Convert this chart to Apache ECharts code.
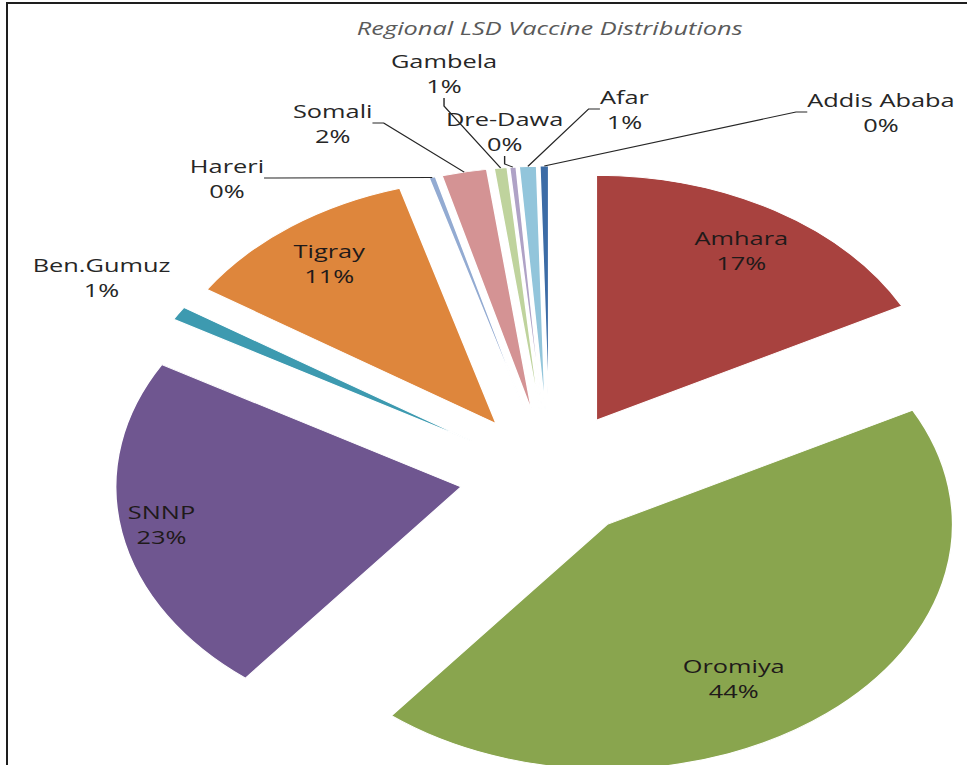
<!DOCTYPE html>
<html><head><meta charset="utf-8">
<script src="https://cdn.jsdelivr.net/npm/echarts@6/dist/echarts.min.js"></script>
<style>
html,body{margin:0;padding:0;background:#fff;overflow:hidden;width:967px;height:765px;}
#frame{position:absolute;left:6px;top:2px;width:961px;height:763px;border-top:2px solid #1e1e1e;border-left:2px solid #1e1e1e;}
#chart{position:absolute;left:0;top:0;width:686px;height:765px;transform:scaleX(1.4096);transform-origin:0 0;}
</style></head><body>
<div id="frame"></div>
<div id="chart"></div>
<script>
// Data (percent share of vaccine distribution), clockwise from 12 o'clock
const categories = ['Amhara','Oromiya','SNNP','Ben.Gumuz','Tigray','Hareri','Somali','Gambela','Dre-Dawa','Afar','Addis Ababa'];
const shares = [17.3, 43.5, 22.6, 0.9, 11.3, 0.3, 2.1, 0.6, 0.3, 0.8, 0.4];
const colors = ['#A8423F','#89A54E','#6F5690','#3D9AB0','#DE863C','#93ABD2','#D49394','#BFD39D','#AFA2C6','#92C5DB','#3C6CA6'];
const insideLabels = ['Amhara','Oromiya','SNNP','Tigray'];
const titleText = 'Regional LSD Vaccine Distributions';

// Outside label anchor positions (chart px before the horizontal stretch)
const labelAnchors = {
  'Ben.Gumuz': [72, 277],
  'Hareri': [161, 178],
  'Somali': [236, 123],
  'Gambela': [315, 73],
  'Dre-Dawa': [358, 131],
  'Afar': [443, 109],
  'Addis Ababa': [625, 112]
};
// small horizontal nudges of inside labels (px)
const insideNudge = {'Oromiya': -37, 'SNNP': -17};

const FONT = '"Open Sans", "Liberation Sans", sans-serif';
const fmt = p => p.name + '\n' + Math.round(p.value) + '%';
const center = [390, 475];
const R = 245, EXPLODE = 64;

const chart = echarts.init(document.getElementById('chart'), null, {renderer: 'svg'});

const pieData = categories.map((n, i) => ({
  name: n, value: shares[i], selected: true, itemStyle: {color: colors[i]}
}));
const outData = categories.map((n, i) => ({
  name: n, value: shares[i],
  label: {show: !insideLabels.includes(n)},
  labelLine: {show: !insideLabels.includes(n) && n !== 'Ben.Gumuz'}
}));
const inData = categories.map((n, i) => ({
  name: n, value: shares[i],
  label: {show: insideLabels.includes(n)}
}));

const labelFont = {fontFamily: FONT, fontSize: 18, lineHeight: 25, align: 'center'};

chart.setOption({
  animation: false,
  backgroundColor: 'transparent',
  title: {
    text: titleText, left: 385, top: 14, textAlign: 'center',
    textStyle: {fontFamily: FONT, fontStyle: 'italic', fontWeight: 'normal', fontSize: 18, color: '#5a5a5a'}
  },
  series: [
    {
      type: 'pie', center: center, radius: [0, R], startAngle: 90, clockwise: true,
      selectedMode: 'multiple', selectedOffset: EXPLODE,
      itemStyle: {borderColor: '#ffffff', borderWidth: 1},
      emphasis: {disabled: true},
      label: {show: false}, labelLine: {show: false},
      data: pieData, z: 2
    },
    {
      type: 'pie', silent: true, center: center, radius: [0, R + EXPLODE], startAngle: 90, clockwise: true,
      avoidLabelOverlap: false,
      itemStyle: {color: 'rgba(0,0,0,0)', borderWidth: 0},
      emphasis: {disabled: true},
      label: Object.assign({position: 'outside', formatter: fmt, color: '#262626'}, labelFont),
      labelLine: {show: true, length: 15, length2: 8, lineStyle: {color: '#262626', width: 1}},
      labelLayout: function (p) {
        const a = labelAnchors[categories[p.dataIndex]];
        if (!a) return {};
        return {x: a[0], y: a[1], align: 'center', verticalAlign: 'middle'};
      },
      data: outData, z: 3
    },
    {
      type: 'pie', silent: true, center: center, radius: [0, 2 * (196 + EXPLODE)], startAngle: 90, clockwise: true,
      itemStyle: {color: 'rgba(0,0,0,0)', borderWidth: 0},
      emphasis: {disabled: true},
      label: Object.assign({position: 'inside', formatter: fmt, color: '#1f1a1a'}, labelFont),
      labelLine: {show: false},
      labelLayout: function (p) {
        const d = insideNudge[categories[p.dataIndex]];
        return d ? {dx: d} : {};
      },
      data: inData, z: 4
    }
  ]
});
</script>
</body></html>
